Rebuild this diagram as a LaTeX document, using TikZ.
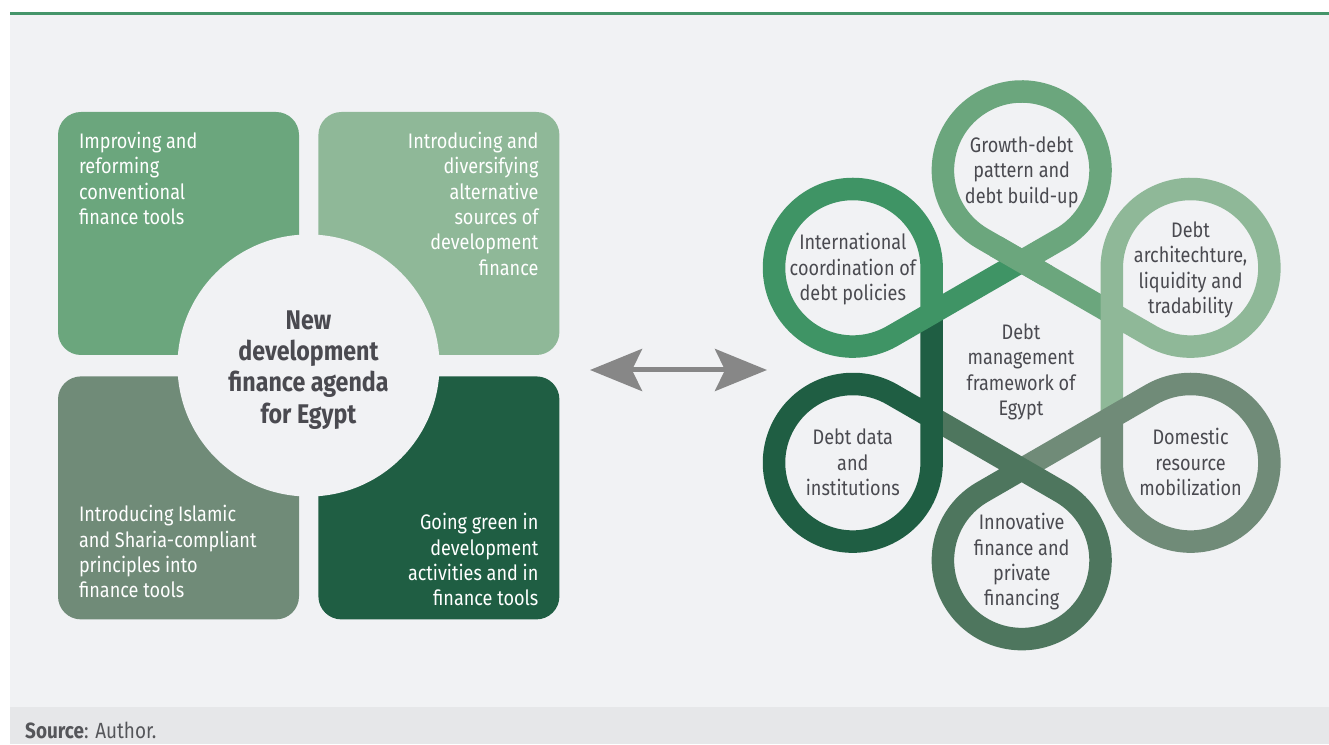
\documentclass[tikz,border=0pt]{standalone}
\usepackage{fontspec}
\setmainfont{Fira Sans}[FakeStretch=0.86]
\usepackage{tikz}
\usetikzlibrary{arrows.meta,positioning}
\definecolor{PanelGray}{HTML}{F1F2F4}
\definecolor{SourceGray}{HTML}{E6E7E9}
\definecolor{RuleGreen}{HTML}{45956A}
\definecolor{TextGray}{HTML}{4A4A50}
\definecolor{SourceText}{HTML}{55565A}
\definecolor{ArrowGray}{HTML}{878787}
\definecolor{MidGreen}{HTML}{6BA67D}
\definecolor{PaleGreen}{HTML}{8FB898}
\definecolor{SageGreen}{HTML}{708B78}
\definecolor{MossGreen}{HTML}{4E765E}
\definecolor{DeepGreen}{HTML}{1F5E43}
\definecolor{BrightGreen}{HTML}{3F9465}

\begin{document}
\begin{tikzpicture}[
  x=1pt, y=1pt,
  quad/.style={rectangle, rounded corners=23pt, minimum width=241pt, minimum height=243pt, inner sep=0pt},
  quadtext/.style={inner sep=0pt, text=white, font=\fontsize{21}{25.4}\selectfont},
  hub/.style={circle, fill=PanelGray, minimum size=262pt, inner sep=0pt},
  hubtext/.style={inner sep=0pt, align=center, text=TextGray, font=\bfseries\fontsize{27}{31.3}\selectfont},
  looptext/.style={inner sep=0pt, yshift=-2.5pt, align=center, text=TextGray, font=\fontsize{21}{25.4}\selectfont},
  band/.style={line width=22.5pt},
  twoway/.style={{Stealth[length=52pt, width=42pt, inset=10pt]}-{Stealth[length=52pt, width=42pt, inset=10pt]}, line width=5pt, draw=ArrowGray}
]
\useasboundingbox (0,0) rectangle (1329,744);
% page and panel
\fill[white] (0,0) rectangle (1329,744);
\fill[PanelGray] (10,37) rectangle (1329,730);
\fill[SourceGray] (10,0) rectangle (1329,37);
\draw[RuleGreen, line width=3.5pt] (10,730.5) -- (1329,730.5);

% left: four quadrants round the agenda
\node[quad, fill=MidGreen] (improve) at (178.5,510.5) {};
\node[quad, fill=PaleGreen, right=19pt of improve] (diversify) {};
\node[quad, fill=SageGreen, below=21pt of improve] (islamic) {};
\node[quad, fill=DeepGreen, right=19pt of islamic] (green) {};
\node[hub] (agenda) at (308.5,378.5) {};
\node[hubtext] (agendatext) at ([yshift=-4.5pt]agenda.center) {\strut New\\development\\finance agenda\\for Egypt\strut};

\node[quadtext, align=left, below right=20pt and 21pt of improve.north west] (improvetext) {Improving and\\reforming\\conventional\\finance tools};
\node[quadtext, align=right, below left=20pt and 21pt of diversify.north east] (diversifytext) {Introducing and\\diversifying\\alternative\\sources of\\development\\finance};
\node[quadtext, align=left, below right=129pt and 21pt of islamic.north west] (islamictext) {Introducing Islamic\\and Sharia-compliant\\principles into\\finance tools};
\node[quadtext, align=right, below left=137pt and 21pt of green.north east] (greentext) {Going green in\\development\\activities and in\\finance tools};

% arrow
\coordinate (arrowL) at (590,374);
\coordinate (arrowR) at (767,374);
\draw[twoway] (arrowL) -- (arrowR);

% right: six loops of the framework
\coordinate (knot) at (1021.7,378.7);
\foreach \k/\ang in {1/90, 2/30, 3/-30, 4/-90, 5/-150, 6/150} {
  \coordinate (P\k) at ([shift={(\ang:104)}]knot);
  \coordinate (O\k) at ([shift={(\ang:195)}]knot);
}
\foreach \k/\nx/\ang/\col in {1/2/90/MidGreen, 2/3/30/PaleGreen, 3/4/-30/SageGreen, 4/5/-90/MossGreen, 5/6/-150/DeepGreen, 6/1/150/BrightGreen}
  \draw[band, draw=\col] (P\k) -- ([shift={({\ang-150}:78.8)}]O\k)
    arc[start angle=\ang-150, end angle=\ang+150, radius=78.8] -- (P\nx);
\draw[band, draw=MidGreen] ([shift={(150:30)}]P1) -- ([shift={(-30:30)}]P1);

\node[looptext] (growth) at (O1) {\strut Growth-debt\\pattern and\\debt build-up\strut};
\node[looptext] (architecture) at (O2) {\strut Debt\\architechture,\\liquidity and\\tradability\strut};
\node[looptext] (domestic) at (O3) {\strut Domestic\\resource\\mobilization\strut};
\node[looptext] (innovative) at (O4) {\strut Innovative\\finance and\\private\\financing\strut};
\node[looptext] (data) at (O5) {\strut Debt data\\and\\institutions\strut};
\node[looptext] (coordination) at (O6) {\strut International\\coordination of\\debt policies\strut};
\node[looptext] (framework) at (1021,374) {\strut Debt\\management\\framework of\\Egypt\strut};

% source line
\node[anchor=base west, inner sep=0pt, text=SourceText, font=\fontsize{22}{24}\selectfont] (source) at (25,6) {\textbf{Source}: Author.};
\end{tikzpicture}
\end{document}
